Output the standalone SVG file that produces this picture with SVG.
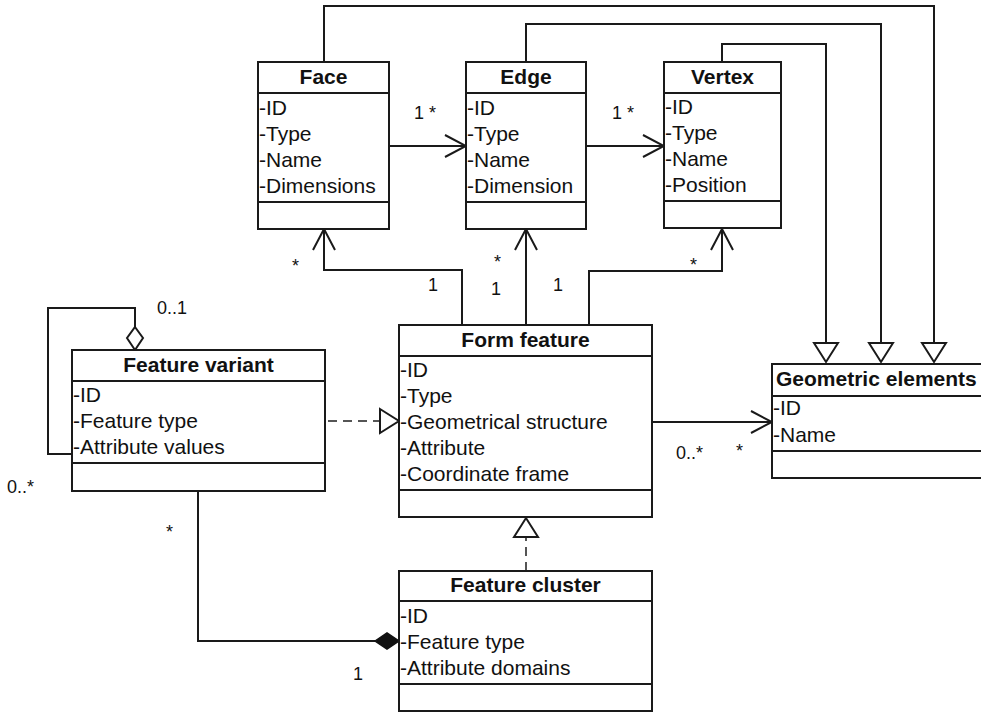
<svg xmlns="http://www.w3.org/2000/svg" width="981" height="715" viewBox="0 0 981 715">
<style>
.box{fill:#fff;stroke:#1a1a1a;stroke-width:2}
.sep{stroke:#1a1a1a;stroke-width:2}
.title{font-family:"Liberation Sans",Arial,sans-serif;font-weight:bold;font-size:21px;fill:#111}
.attr{font-family:"Liberation Sans",Arial,sans-serif;font-size:21px;fill:#111}
.lbl{font-family:"Liberation Sans",Arial,sans-serif;font-size:18px;fill:#111}
.ln{fill:none;stroke:#1a1a1a;stroke-width:2}
.dash{fill:none;stroke:#555;stroke-width:2;stroke-dasharray:9,6}
</style>
<defs>
<marker id="open" viewBox="-24 -13 26 26" markerWidth="26" markerHeight="26" refX="0" refY="0" markerUnits="userSpaceOnUse" orient="auto">
<path d="M-21,-11 L0,0 L-21,11" fill="none" stroke="#1a1a1a" stroke-width="2"/>
</marker>
<marker id="tri" viewBox="-22 -14 24 28" markerWidth="24" markerHeight="28" refX="0" refY="0" markerUnits="userSpaceOnUse" orient="auto">
<path d="M-19,-12 L0,0 L-19,12 Z" fill="#fff" stroke="#1a1a1a" stroke-width="2"/>
</marker>
</defs>

<g id="connectors">
<line class="ln" x1="389" y1="146" x2="466" y2="146" marker-end="url(#open)"/>
<line class="ln" x1="586" y1="146" x2="664" y2="146" marker-end="url(#open)"/>
<polyline class="ln" points="324,62 324,6 934,6 934,362" marker-end="url(#tri)"/>
<polyline class="ln" points="526,62 526,24 881,24 881,362" marker-end="url(#tri)"/>
<polyline class="ln" points="722,62 722,44 826,44 826,362" marker-end="url(#tri)"/>
<polyline class="ln" points="462,325 462,270 324,270 324,229" marker-end="url(#open)"/>
<line class="ln" x1="526" y1="325" x2="526" y2="229" marker-end="url(#open)"/>
<polyline class="ln" points="589,325 589,271 722,271 722,229" marker-end="url(#open)"/>
<line class="ln" x1="652" y1="422" x2="772" y2="422" marker-end="url(#open)"/>
<line class="dash" x1="328" y1="421" x2="399" y2="421" marker-end="url(#tri)"/>
<line class="dash" x1="526" y1="571" x2="526" y2="518" marker-end="url(#tri)"/>
<polyline class="ln" points="198,491 198,641 375,641"/>
<polygon points="375,641 387,633 399,641 387,649" fill="#111" stroke="#111" stroke-width="1.5"/>
<polyline class="ln" points="72,454 48,454 48,308 135,308 135,327"/>
<polygon points="135,327 143,338 135,350 127,338" fill="#fff" stroke="#1a1a1a" stroke-width="2"/>
<text class="lbl" x="414" y="119">1 *</text>
<text class="lbl" x="612" y="119">1 *</text>
<text class="lbl" x="292" y="272">*</text>
<text class="lbl" x="428" y="291">1</text>
<text class="lbl" x="494" y="268">*</text>
<text class="lbl" x="491" y="295">1</text>
<text class="lbl" x="553" y="291">1</text>
<text class="lbl" x="690" y="271">*</text>
<text class="lbl" x="157" y="314">0..1</text>
<text class="lbl" x="7" y="493">0..*</text>
<text class="lbl" x="166" y="538">*</text>
<text class="lbl" x="353" y="680">1</text>
<text class="lbl" x="676" y="459">0..*</text>
<text class="lbl" x="736" y="457">*</text>
</g>

<g id="face">
<rect class="box" x="258" y="62" width="131" height="167"/>
<line class="sep" x1="258" y1="93" x2="389" y2="93"/>
<line class="sep" x1="258" y1="202" x2="389" y2="202"/>
<text class="title" x="323.5" y="84" text-anchor="middle">Face</text>
<text class="attr" x="259" y="115">-ID</text>
<text class="attr" x="259" y="141">-Type</text>
<text class="attr" x="259" y="167">-Name</text>
<text class="attr" x="259" y="193">-Dimensions</text>
</g>

<g id="edge">
<rect class="box" x="466" y="62" width="120" height="167"/>
<line class="sep" x1="466" y1="93" x2="586" y2="93"/>
<line class="sep" x1="466" y1="202" x2="586" y2="202"/>
<text class="title" x="526" y="84" text-anchor="middle">Edge</text>
<text class="attr" x="467" y="115">-ID</text>
<text class="attr" x="467" y="141">-Type</text>
<text class="attr" x="467" y="167">-Name</text>
<text class="attr" x="467" y="193">-Dimension</text>
</g>

<g id="vertex">
<rect class="box" x="664" y="62" width="117" height="166"/>
<line class="sep" x1="664" y1="93" x2="781" y2="93"/>
<line class="sep" x1="664" y1="201" x2="781" y2="201"/>
<text class="title" x="722.5" y="84" text-anchor="middle">Vertex</text>
<text class="attr" x="665" y="114">-ID</text>
<text class="attr" x="665" y="140">-Type</text>
<text class="attr" x="665" y="166">-Name</text>
<text class="attr" x="665" y="192">-Position</text>
</g>

<g id="form-feature">
<rect class="box" x="399" y="325" width="253" height="192"/>
<line class="sep" x1="399" y1="356" x2="652" y2="356"/>
<line class="sep" x1="399" y1="490" x2="652" y2="490"/>
<text class="title" x="525.5" y="347" text-anchor="middle">Form feature</text>
<text class="attr" x="400" y="377">-ID</text>
<text class="attr" x="400" y="403">-Type</text>
<text class="attr" x="400" y="429">-Geometrical structure</text>
<text class="attr" x="400" y="455">-Attribute</text>
<text class="attr" x="400" y="481">-Coordinate frame</text>
</g>

<g id="feature-variant">
<rect class="box" x="72" y="350" width="253" height="141"/>
<line class="sep" x1="72" y1="381" x2="325" y2="381"/>
<line class="sep" x1="72" y1="463" x2="325" y2="463"/>
<text class="title" x="198.5" y="372" text-anchor="middle">Feature variant</text>
<text class="attr" x="73" y="402">-ID</text>
<text class="attr" x="73" y="428">-Feature type</text>
<text class="attr" x="73" y="454">-Attribute values</text>
</g>

<g id="geometric-elements">
<rect class="box" x="772" y="364" width="220" height="114"/>
<line class="sep" x1="772" y1="396" x2="992" y2="396"/>
<line class="sep" x1="772" y1="451" x2="992" y2="451"/>
<text class="title" x="776" y="386">Geometric elements</text>
<text class="attr" x="773" y="415">-ID</text>
<text class="attr" x="773" y="442">-Name</text>
</g>

<g id="feature-cluster">
<rect class="box" x="399" y="571" width="253" height="140"/>
<line class="sep" x1="399" y1="601" x2="652" y2="601"/>
<line class="sep" x1="399" y1="684" x2="652" y2="684"/>
<text class="title" x="525.5" y="592" text-anchor="middle">Feature cluster</text>
<text class="attr" x="400" y="623">-ID</text>
<text class="attr" x="400" y="649">-Feature type</text>
<text class="attr" x="400" y="675">-Attribute domains</text>
</g>
</svg>
